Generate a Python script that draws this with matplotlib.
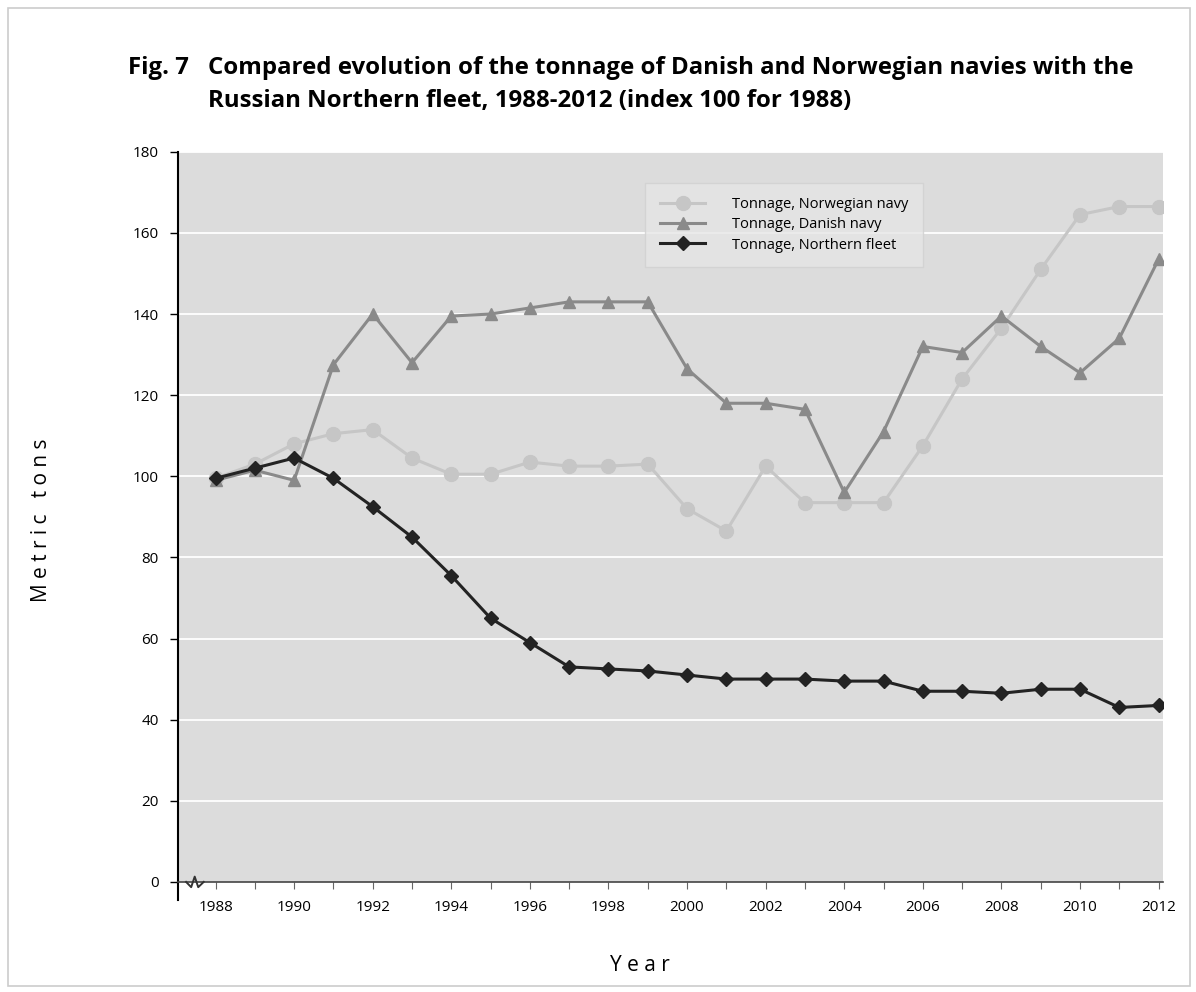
import matplotlib
matplotlib.use("Agg")
import matplotlib.pyplot as plt
from matplotlib.patches import Rectangle

# Data (index 100 for 1988)
years = list(range(1988, 2013))
norwegian = [99.5, 103, 108, 110.5, 111.5, 104.5, 100.5, 100.5, 103.5, 102.5,
             102.5, 103, 92, 86.5, 102.5, 93.5, 93.5, 93.5, 107.5, 124,
             136.5, 151, 164.5, 166.5, 166.5]
danish = [99, 101.5, 99, 127.5, 140, 128, 139.5, 140, 141.5, 143,
          143, 143, 126.5, 118, 118, 116.5, 96, 111, 132, 130.5,
          139.5, 132, 125.5, 134, 153.5]
northern = [99.5, 102, 104.5, 99.5, 92.5, 85, 75.5, 65, 59, 53,
            52.5, 52, 51, 50, 50, 50, 49.5, 49.5, 47, 47,
            46.5, 47.5, 47.5, 43, 43.5]

labels = ["Tonnage, Norwegian navy", "Tonnage, Danish navy", "Tonnage, Northern fleet"]
year_ticks = list(range(1988, 2013, 2))
y_ticks = list(range(0, 181, 20))

plt.rcParams['font.family'] = ['Open Sans', 'DejaVu Sans']

fig = plt.figure(figsize=(11.96, 9.92), dpi=100)
ax = fig.add_axes([0.149, 0.111, 0.823, 0.736])

# outer frame around the whole figure
fig.patches.append(Rectangle((0.007, 0.006), 0.988, 0.986, transform=fig.transFigure,
                             fill=False, edgecolor='#cccccc', linewidth=1.2))

ax.set_facecolor('#dcdcdc')
for y in y_ticks[1:]:
    ax.axhline(y, color='white', linewidth=1.3, zorder=1)

ax.plot(years, norwegian, color='#c6c6c6', marker='o', markersize=10,
        linewidth=2.2, label=labels[0], zorder=3)
ax.plot(years, danish, color='#8a8a8a', marker='^', markersize=9,
        linewidth=2.2, label=labels[1], zorder=4)
ax.plot(years, northern, color='#232323', marker='D', markersize=7.5,
        linewidth=2.2, label=labels[2], zorder=5)

ax.set_xlim(1987.05, 2012.1)
ax.set_ylim(0, 180)
ax.set_yticks(y_ticks)
ax.set_xticks(year_ticks)
ax.set_xticks(years, minor=True)
ax.tick_params(axis='y', length=6, width=1, labelsize=11, pad=8)
ax.tick_params(axis='x', which='both', length=5, width=0.8, labelsize=11,
               pad=8, color='#666666')

for side in ['top', 'right']:
    ax.spines[side].set_visible(False)
ax.spines['left'].set_linewidth(1.5)
ax.spines['bottom'].set_linewidth(1.2)
ax.spines['bottom'].set_color('#444444')

# axis break squiggle and spine overhang
ax.plot([1987.25, 1987.38, 1987.47, 1987.56, 1987.7], [0, -1.3, 1.3, -1.3, 0],
        color='#333333', linewidth=1.4, clip_on=False, zorder=6)
ax.plot([1987.05, 1987.05], [0, -4.5], color='black', linewidth=1.5, clip_on=False)

ax.set_ylabel('M e t r i c   t o n s', fontsize=15)
ax.yaxis.set_label_coords(-0.128, 0.496)
ax.set_xlabel('Y e a r', fontsize=15)
ax.xaxis.set_label_coords(0.4695, -0.1)

leg = ax.legend(loc='upper left', bbox_to_anchor=(0.4746, 0.9575), fontsize=10.5,
                frameon=True, fancybox=False, facecolor='#e6e6e6',
                edgecolor='#d0d0d0', borderpad=1.0, labelspacing=0.35,
                handlelength=3.1, handletextpad=1.85, borderaxespad=0)
leg.get_frame().set_linewidth(1.0)

fig.text(0.107, 0.931, 'Fig. 7', fontsize=17.3, fontweight='bold', ha='left', va='center')
fig.text(0.174, 0.931, 'Compared evolution of the tonnage of Danish and Norwegian navies with the',
         fontsize=17.3, fontweight='bold', ha='left', va='center')
fig.text(0.174, 0.898, 'Russian Northern fleet, 1988-2012 (index 100 for 1988)',
         fontsize=17.3, fontweight='bold', ha='left', va='center')

fig.savefig('out.png', dpi=100)
